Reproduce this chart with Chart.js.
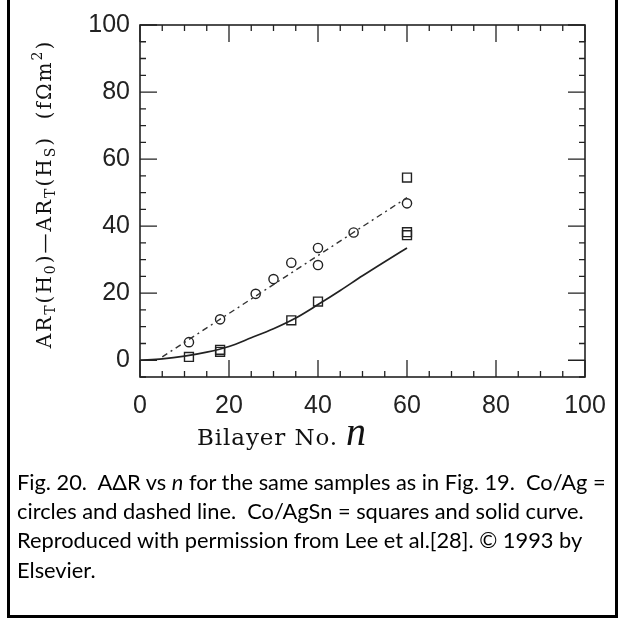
<!DOCTYPE html>
<html>
<head>
<meta charset="utf-8">
<script src="https://cdn.jsdelivr.net/npm/chart.js@4"></script>
<style>
  html, body { margin:0; padding:0; background:#fff; }
  #wrap { position:relative; width:623px; height:621px; overflow:hidden; }
  #chart { position:absolute; left:0; top:0; }
  #frame { position:absolute; left:7px; top:-10px; width:605px; height:622px; border:3px solid #000; box-sizing:content-box; }
  #caption { position:absolute; left:17px; top:467px; font-family:"Lato","Open Sans",sans-serif; font-size:21.8px; line-height:29.2px; color:#000; white-space:nowrap; }
</style>
</head>
<body>
<div id="wrap">
  <canvas id="chart" width="623" height="462"></canvas>
  <div id="frame"></div>
  <div id="caption">
    <div class="ln">Fig. 20.&nbsp; AΔR vs <i>n</i> for the same samples as in Fig. 19.&nbsp; Co/Ag =</div>
    <div class="ln">circles and dashed line.&nbsp; Co/AgSn = squares and solid curve.</div>
    <div class="ln">Reproduced with permission from Lee et al.[28]. © 1993 by</div>
    <div class="ln">Elsevier.</div>
  </div>
</div>
<script>
// ---- data ----
const circleN = [11, 18, 26, 30, 34, 40, 40, 48, 60];
const circleV = [5.4, 12.2, 19.8, 24.2, 29.1, 33.5, 28.4, 38.1, 46.8];
const squareN = [11, 18, 18, 34, 40, 60, 60, 60];
const squareV = [1.0, 2.5, 3.1, 11.9, 17.5, 54.5, 37.3, 38.2];
const dashN = [5, 60];
const dashV = [1.0, 48.5];
const curveN = [0, 5, 10, 15, 20, 25, 30, 35, 40, 45, 50, 55, 60];
const curveV = [0, 0.4, 1.2, 2.4, 4.1, 6.7, 9.4, 12.6, 16.6, 20.8, 25.2, 29.4, 33.5];
const xTickLabels = [0, 20, 40, 60, 80, 100];
const yTickLabels = [0, 20, 40, 60, 80, 100];
const xTitle = "Bilayer No.";
const xTitleVar = "n";
const yTitleParts = [["AR",""],["T","sub"],["(H",""],["0","sub"],[")\u2014AR",""],["T","sub"],["(H",""],["S","sub"],[")  (f\u03A9m",""],["2","sup"],[")",""]];

const pts = (xs, ys) => xs.map((x, i) => ({x, y: ys[i]}));

const framePlugin = {
  id: 'frameTicks',
  afterDraw(chart) {
    const {ctx, chartArea: a, scales: {x, y}} = chart;
    ctx.save();
    ctx.strokeStyle = '#222';
    ctx.lineWidth = 1.6;
    ctx.strokeRect(a.left, a.top, a.right - a.left, a.bottom - a.top);
    ctx.lineWidth = 1.3;
    ctx.beginPath();
    for (let v = 0; v <= 100; v += 5) {
      const px = x.getPixelForValue(v);
      const L = (v % 20 === 0) ? 17 : 6;
      ctx.moveTo(px, a.bottom); ctx.lineTo(px, a.bottom - L);
      ctx.moveTo(px, a.top); ctx.lineTo(px, a.top + L);
    }
    for (let v = -5; v <= 100; v += 5) {
      const py = y.getPixelForValue(v);
      const L = (v % 20 === 0) ? 17 : 6;
      ctx.moveTo(a.left, py); ctx.lineTo(a.left + L, py);
      ctx.moveTo(a.right, py); ctx.lineTo(a.right - L, py);
    }
    ctx.stroke();

    // x title
    ctx.fillStyle = '#111';
    ctx.textBaseline = 'alphabetic';
    ctx.textAlign = 'left';
    ctx.font = '23px "DejaVu Serif"';
    ctx.letterSpacing = '0.9px';
    ctx.fillText(xTitle, 197, 445);
    ctx.letterSpacing = '0px';
    ctx.font = 'italic 40px "Liberation Serif"';
    ctx.fillText(xTitleVar, 346, 445);

    // y title (rotated)
    ctx.translate(51, 194);
    ctx.rotate(-Math.PI / 2);
    const base = 20, small = 14;
    ctx.letterSpacing = '2px';
    let total = 0;
    for (const [t, k] of yTitleParts) {
      ctx.font = (k ? small : base) + 'px "DejaVu Serif"';
      total += ctx.measureText(t).width;
    }
    let cx = -total / 2;
    for (const [t, k] of yTitleParts) {
      ctx.font = (k ? small : base) + 'px "DejaVu Serif"';
      const dy = k === 'sub' ? 4 : (k === 'sup' ? -9 : 0);
      ctx.fillText(t, cx, dy);
      cx += ctx.measureText(t).width;
    }
    ctx.restore();
  }
};

new Chart(document.getElementById('chart'), {
  type: 'scatter',
  data: {
    datasets: [
      { data: pts(dashN, dashV), showLine: true, borderColor: '#333', borderWidth: 1.4,
        borderDash: [6, 4, 2, 4], pointRadius: 0, fill: false },
      { data: pts(curveN, curveV), showLine: true, borderColor: '#222', borderWidth: 1.7,
        cubicInterpolationMode: 'monotone', pointRadius: 0, fill: false },
      { data: pts(circleN, circleV), pointStyle: 'circle', pointRadius: 4.6,
        borderColor: '#222', borderWidth: 1.4, backgroundColor: 'rgba(255,255,255,0)' },
      { data: pts(squareN, squareV), pointStyle: 'rect', pointRadius: 6.3,
        borderColor: '#222', borderWidth: 1.4, backgroundColor: 'rgba(255,255,255,0)' }
    ]
  },
  options: {
    responsive: false,
    animation: false,
    devicePixelRatio: 1,
    layout: { padding: { left: 0, right: 38, top: 20, bottom: 0 } },
    plugins: { legend: { display: false }, tooltip: { enabled: false } },
    scales: {
      x: {
        type: 'linear', min: 0, max: 100,
        afterFit(s) { s.height = 85; },
        border: { display: false },
        grid: { display: false, drawTicks: false },
        ticks: { stepSize: 20, padding: 14, color: '#222', maxRotation: 0,
          font: { family: '"Liberation Sans", Arial, sans-serif', size: 25 },
          callback: (v) => xTickLabels.includes(v) ? String(v) : '' }
      },
      y: {
        type: 'linear', min: -5, max: 100,
        afterFit(s) { s.width = 140; },
        border: { display: false },
        grid: { display: false, drawTicks: false },
        afterBuildTicks(s) { s.ticks = yTickLabels.map(v => ({value: v})); },
        ticks: { padding: 10, color: '#222',
          font: { family: '"Liberation Sans", Arial, sans-serif', size: 25 },
          callback: (v) => String(v) }
      }
    }
  },
  plugins: [framePlugin]
});
</script>
</body>
</html>
